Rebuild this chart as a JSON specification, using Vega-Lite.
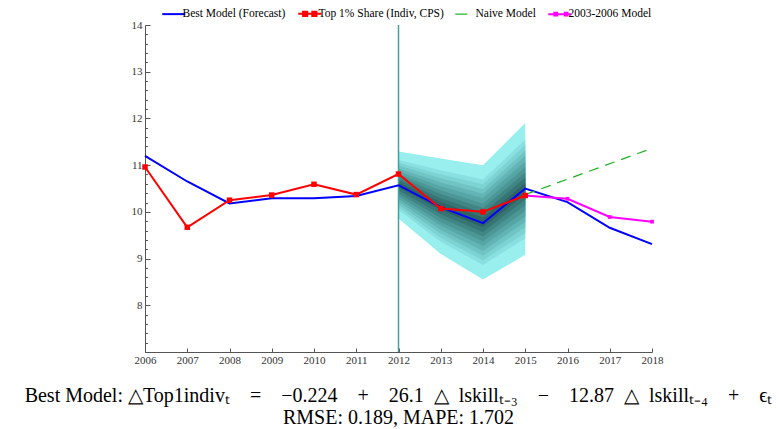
{
  "$schema": "https://vega.github.io/schema/vega-lite/v6.json",
  "width": 507,
  "height": 327,
  "autosize": {"type": "none"},
  "padding": {"left": 145, "top": 25, "right": 127, "bottom": 77},
  "background": "white",
  "config": {"view": {"stroke": null}, "font": "Liberation Serif"},
  "title": {
    "text": "Best Model: △Top1indivₜ\u2003=\u2003−0.224\u2003+\u200326.1\u2002△\u2002lskillₜ₋₃\u2003−\u200312.87\u2002△\u2002lskillₜ₋₄\u2003+\u2003ϵₜ",
    "subtitle": "RMSE: 0.189, MAPE: 1.702",
    "orient": "bottom",
    "anchor": "middle",
    "offset": 21,
    "font": "Liberation Serif",
    "fontSize": 20,
    "fontWeight": "normal",
    "color": "black",
    "subtitleFont": "Liberation Serif",
    "subtitleFontSize": 20,
    "subtitleColor": "black",
    "subtitlePadding": 2
  },
  "datasets": {
    "fan": [
      {"band": 10, "year": 2012, "lo": 9.86, "hi": 11.29},
      {"band": 10, "year": 2013, "lo": 9.10, "hi": 11.14},
      {"band": 10, "year": 2014, "lo": 8.55, "hi": 11.00},
      {"band": 10, "year": 2015, "lo": 9.08, "hi": 11.90},
      {"band": 9, "year": 2012, "lo": 10.04, "hi": 11.11},
      {"band": 9, "year": 2013, "lo": 9.36, "hi": 10.89},
      {"band": 9, "year": 2014, "lo": 8.86, "hi": 10.69},
      {"band": 9, "year": 2015, "lo": 9.43, "hi": 11.55},
      {"band": 8, "year": 2012, "lo": 10.10, "hi": 11.05},
      {"band": 8, "year": 2013, "lo": 9.44, "hi": 10.80},
      {"band": 8, "year": 2014, "lo": 8.96, "hi": 10.59},
      {"band": 8, "year": 2015, "lo": 9.55, "hi": 11.43},
      {"band": 7, "year": 2012, "lo": 10.16, "hi": 10.99},
      {"band": 7, "year": 2013, "lo": 9.53, "hi": 10.72},
      {"band": 7, "year": 2014, "lo": 9.06, "hi": 10.49},
      {"band": 7, "year": 2015, "lo": 9.67, "hi": 11.31},
      {"band": 6, "year": 2012, "lo": 10.22, "hi": 10.93},
      {"band": 6, "year": 2013, "lo": 9.61, "hi": 10.63},
      {"band": 6, "year": 2014, "lo": 9.16, "hi": 10.39},
      {"band": 6, "year": 2015, "lo": 9.79, "hi": 11.20},
      {"band": 5, "year": 2012, "lo": 10.28, "hi": 10.87},
      {"band": 5, "year": 2013, "lo": 9.70, "hi": 10.55},
      {"band": 5, "year": 2014, "lo": 9.27, "hi": 10.29},
      {"band": 5, "year": 2015, "lo": 9.90, "hi": 11.08},
      {"band": 4, "year": 2012, "lo": 10.34, "hi": 10.81},
      {"band": 4, "year": 2013, "lo": 9.78, "hi": 10.46},
      {"band": 4, "year": 2014, "lo": 9.37, "hi": 10.18},
      {"band": 4, "year": 2015, "lo": 10.02, "hi": 10.96},
      {"band": 3, "year": 2012, "lo": 10.40, "hi": 10.75},
      {"band": 3, "year": 2013, "lo": 9.87, "hi": 10.38},
      {"band": 3, "year": 2014, "lo": 9.47, "hi": 10.08},
      {"band": 3, "year": 2015, "lo": 10.14, "hi": 10.84},
      {"band": 2, "year": 2012, "lo": 10.46, "hi": 10.69},
      {"band": 2, "year": 2013, "lo": 9.95, "hi": 10.29},
      {"band": 2, "year": 2014, "lo": 9.57, "hi": 9.98},
      {"band": 2, "year": 2015, "lo": 10.26, "hi": 10.73},
      {"band": 1, "year": 2012, "lo": 10.52, "hi": 10.63},
      {"band": 1, "year": 2013, "lo": 10.04, "hi": 10.21},
      {"band": 1, "year": 2014, "lo": 9.67, "hi": 9.88},
      {"band": 1, "year": 2015, "lo": 10.37, "hi": 10.61}
    ],
    "best": [
      {"series": "Best Model (Forecast)", "year": 2006, "value": 11.2},
      {"series": "Best Model (Forecast)", "year": 2007, "value": 10.65},
      {"series": "Best Model (Forecast)", "year": 2008, "value": 10.18},
      {"series": "Best Model (Forecast)", "year": 2009, "value": 10.29},
      {"series": "Best Model (Forecast)", "year": 2010, "value": 10.29},
      {"series": "Best Model (Forecast)", "year": 2011, "value": 10.34},
      {"series": "Best Model (Forecast)", "year": 2012, "value": 10.57},
      {"series": "Best Model (Forecast)", "year": 2013, "value": 10.1},
      {"series": "Best Model (Forecast)", "year": 2014, "value": 9.76},
      {"series": "Best Model (Forecast)", "year": 2015, "value": 10.5},
      {"series": "Best Model (Forecast)", "year": 2016, "value": 10.21},
      {"series": "Best Model (Forecast)", "year": 2017, "value": 9.66},
      {"series": "Best Model (Forecast)", "year": 2018, "value": 9.31}
    ],
    "top1": [
      {"series": "Top 1% Share (Indiv, CPS)", "year": 2006, "value": 10.96},
      {"series": "Top 1% Share (Indiv, CPS)", "year": 2007, "value": 9.67},
      {"series": "Top 1% Share (Indiv, CPS)", "year": 2008, "value": 10.25},
      {"series": "Top 1% Share (Indiv, CPS)", "year": 2009, "value": 10.36},
      {"series": "Top 1% Share (Indiv, CPS)", "year": 2010, "value": 10.59},
      {"series": "Top 1% Share (Indiv, CPS)", "year": 2011, "value": 10.37},
      {"series": "Top 1% Share (Indiv, CPS)", "year": 2012, "value": 10.81},
      {"series": "Top 1% Share (Indiv, CPS)", "year": 2013, "value": 10.07},
      {"series": "Top 1% Share (Indiv, CPS)", "year": 2014, "value": 10.0},
      {"series": "Top 1% Share (Indiv, CPS)", "year": 2015, "value": 10.35}
    ],
    "naive": [
      {"series": "Naive Model", "year": 2015, "value": 10.37},
      {"series": "Naive Model", "year": 2018, "value": 11.36}
    ],
    "m0306": [
      {"series": "2003-2006 Model", "year": 2015, "value": 10.35},
      {"series": "2003-2006 Model", "year": 2016, "value": 10.28},
      {"series": "2003-2006 Model", "year": 2017, "value": 9.89},
      {"series": "2003-2006 Model", "year": 2018, "value": 9.79}
    ],
    "vline": [{"year": 2012}]
  },
  "layer": [
    {
      "data": {"name": "fan"},
      "mark": {"type": "area", "interpolate": "linear"},
      "encoding": {
        "x": {
          "field": "year", "type": "quantitative",
          "scale": {"domain": [2006, 2018], "nice": false, "zero": false},
          "axis": {
            "title": null, "grid": false, "format": "d",
            "values": [2006, 2007, 2008, 2009, 2010, 2011, 2012, 2013, 2014, 2015, 2016, 2017, 2018],
            "tickCount": 100,
            "tickSize": -4, "labelPadding": 6, "labelFlush": false, "labelOverlap": false,
            "labelFont": "Liberation Serif", "labelFontSize": 11, "labelColor": "#333",
            "domainColor": "#555", "tickColor": "#555"
          }
        },
        "y": {
          "field": "lo", "type": "quantitative",
          "scale": {"domain": [7, 14], "nice": false, "zero": false},
          "axis": {
            "title": null, "grid": false,
            "values": [7, 7.2, 7.4, 7.6, 7.8, 8, 8.2, 8.4, 8.6, 8.8, 9, 9.2, 9.4, 9.6, 9.8, 10, 10.2, 10.4, 10.6, 10.8, 11, 11.2, 11.4, 11.6, 11.8, 12, 12.2, 12.4, 12.6, 12.8, 13, 13.2, 13.4, 13.6, 13.8, 14],
            "tickCount": 100,
            "labelExpr": "(datum.value % 1 === 0 && datum.value > 7) ? format(datum.value, 'd') : ''",
            "tickSize": {"condition": {"test": "datum.value % 1 === 0", "value": -5}, "value": -2.5},
            "labelPadding": 8, "labelFlush": false, "labelOverlap": false,
            "labelFont": "Liberation Serif", "labelFontSize": 11, "labelColor": "#333",
            "domainColor": "#555", "tickColor": "#555"
          }
        },
        "y2": {"field": "hi"},
        "fill": {
          "field": "band", "type": "ordinal",
          "scale": {
            "domain": [10, 9, 8, 7, 6, 5, 4, 3, 2, 1],
            "range": ["#99eeee", "#8ae0e0", "#7dd2d2", "#70c4c4", "#63b5b5", "#57a6a6", "#4c9696", "#418686", "#377575", "#2e6464"]
          },
          "legend": null
        },
        "detail": {"field": "band", "type": "ordinal"}
      }
    },
    {
      "data": {"name": "vline"},
      "mark": {"type": "rule", "color": "#3fa3a3", "strokeWidth": 1.5},
      "encoding": {"x": {"field": "year", "type": "quantitative"}}
    },
    {
      "data": {"name": "best"},
      "mark": {"type": "line", "strokeWidth": 2},
      "encoding": {
        "x": {"field": "year", "type": "quantitative"},
        "y": {"field": "value", "type": "quantitative"},
        "color": {
          "field": "series", "type": "nominal",
          "scale": {
            "domain": ["Best Model (Forecast)", "Top 1% Share (Indiv, CPS)", "Naive Model", "2003-2006 Model"],
            "range": ["#0000ff", "#ff0000", "#22b022", "#ff00ff"]
          },
          "legend": {
            "orient": "none", "legendX": 23, "legendY": -17, "direction": "horizontal",
            "title": null, "labelFont": "Liberation Serif", "labelFontSize": 11.5, "labelColor": "black",
            "symbolSize": 529, "symbolStrokeWidth": 2, "labelOffset": 3, "columnPadding": 8,
            "encoding": {
              "symbols": {
                "shape": {"value": {"expr": "datum.value === 'Top 1% Share (Indiv, CPS)' ? 'M-1,0L1,0M-0.58,-0.18L-0.22,-0.18L-0.22,0.18L-0.58,0.18ZM0.22,-0.18L0.58,-0.18L0.58,0.18L0.22,0.18Z' : datum.value === '2003-2006 Model' ? 'M-1,0L1,0M-0.47,-0.12L-0.23,-0.12L-0.23,0.12L-0.47,0.12ZM0.43,-0.12L0.67,-0.12L0.67,0.12L0.43,0.12Z' : datum.value === 'Naive Model' ? 'M-1,0L0.05,0' : 'stroke'"}},
                "fill": {"value": {"expr": "scale('color', datum.value)"}},
                "strokeWidth": {"value": {"expr": "datum.value === 'Naive Model' ? 1.2 : 2"}}
              }
            }
          }
        }
      }
    },
    {
      "data": {"name": "m0306"},
      "mark": {"type": "line", "strokeWidth": 2},
      "encoding": {
        "x": {"field": "year", "type": "quantitative"},
        "y": {"field": "value", "type": "quantitative"},
        "color": {"field": "series", "type": "nominal"}
      }
    },
    {
      "data": {"name": "m0306"},
      "mark": {"type": "point", "shape": "square", "filled": true, "size": 14, "color": "#ff00ff", "opacity": 1},
      "encoding": {
        "x": {"field": "year", "type": "quantitative"},
        "y": {"field": "value", "type": "quantitative"}
      }
    },
    {
      "data": {"name": "naive"},
      "mark": {"type": "line", "strokeWidth": 1.2, "strokeDash": [10, 7]},
      "encoding": {
        "x": {"field": "year", "type": "quantitative"},
        "y": {"field": "value", "type": "quantitative"},
        "color": {"field": "series", "type": "nominal"}
      }
    },
    {
      "data": {"name": "top1"},
      "mark": {"type": "line", "strokeWidth": 2},
      "encoding": {
        "x": {"field": "year", "type": "quantitative"},
        "y": {"field": "value", "type": "quantitative"},
        "color": {"field": "series", "type": "nominal"}
      }
    },
    {
      "data": {"name": "top1"},
      "mark": {"type": "point", "shape": "square", "filled": true, "size": 30, "color": "#ff0000", "opacity": 1},
      "encoding": {
        "x": {"field": "year", "type": "quantitative"},
        "y": {"field": "value", "type": "quantitative"}
      }
    }
  ]
}
